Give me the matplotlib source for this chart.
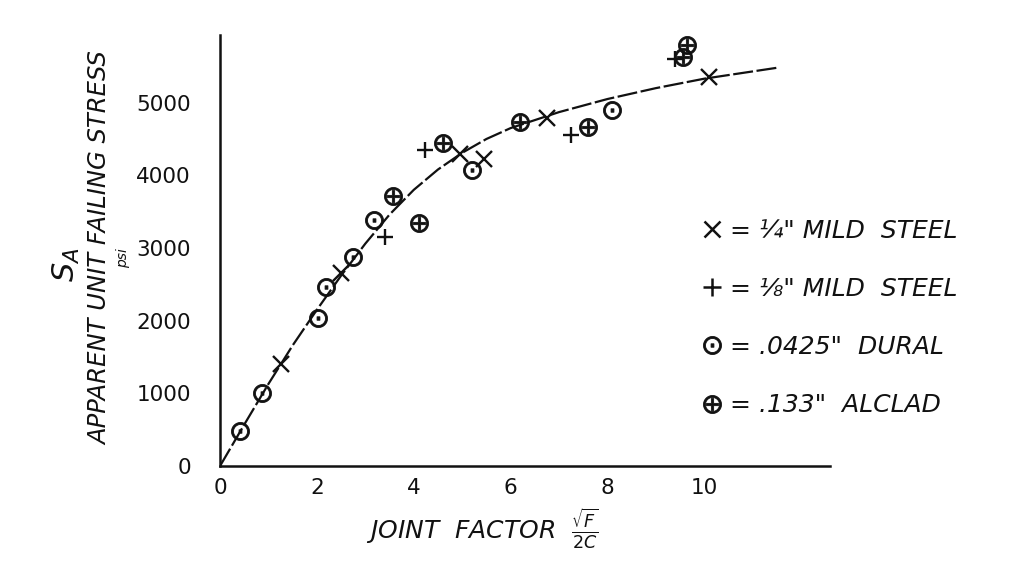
import matplotlib

matplotlib.use("Agg")
import matplotlib.pyplot as plt
from matplotlib.lines import Line2D

# faired curve through the test points
curve_x = [0, 0.5, 1, 1.5, 2, 2.5, 3, 3.5, 4, 4.5, 5, 5.5, 6, 7, 8, 9, 10, 11.5]
curve_y = [0, 570, 1130, 1660, 2150, 2620, 3060, 3460, 3800, 4080, 4310, 4500,
           4650, 4870, 5050, 5200, 5330, 5480]

# 1/4" mild steel
steel_quarter_x = [1.25, 2.5, 4.95, 5.45, 6.75, 10.1]
steel_quarter_y = [1400, 2650, 4300, 4230, 4790, 5350]

# 1/8" mild steel
steel_eighth_x = [3.4, 4.23, 7.25, 9.4]
steel_eighth_y = [3150, 4350, 4550, 5600]

# .0425" dural
dural_x = [0.42, 0.87, 2.02, 2.19, 2.75, 3.17, 5.21, 8.1]
dural_y = [480, 1010, 2040, 2460, 2870, 3380, 4070, 4900]

# .133" alclad
alclad_x = [3.58, 4.1, 4.6, 6.2, 7.6, 9.55, 9.65]
alclad_y = [3720, 3350, 4450, 4730, 4660, 5630, 5800]

x_ticks = [0, 2, 4, 6, 8, 10]
y_ticks = [0, 1000, 2000, 3000, 4000, 5000]

legend_labels = [
    '= ¼" MILD  STEEL',
    '= ⅛" MILD  STEEL',
    '= .0425"  DURAL',
    '= .133"  ALCLAD',
]

ink = "#111111"

fig = plt.figure(figsize=(10.36, 5.64), dpi=100)
fig.patch.set_facecolor("white")
ax = fig.add_axes([0.2124, 0.1738, 0.589, 0.764])

ax.plot(curve_x, curve_y, color=ink, linewidth=1.6, linestyle=(0, (9, 1.6)), zorder=2)

mark_kw = dict(linestyle="none", color=ink, zorder=3, clip_on=False)
ax.plot(steel_quarter_x, steel_quarter_y, marker="x", markersize=11, markeredgewidth=1.7, **mark_kw)
ax.plot(steel_eighth_x, steel_eighth_y, marker="+", markersize=12, markeredgewidth=1.7, **mark_kw)
ax.plot(dural_x, dural_y, marker=r"$\odot$", markersize=13, markeredgewidth=0.6, **mark_kw)
ax.plot(alclad_x, alclad_y, marker=r"$\oplus$", markersize=13, markeredgewidth=0.6, **mark_kw)

ax.set_xlim(0, 12.6)
ax.set_ylim(0, 5930)
ax.set_xticks(x_ticks)
ax.set_xticklabels([str(v) for v in x_ticks])
ax.set_yticks(y_ticks)
ax.set_yticklabels([str(v) for v in y_ticks])
ax.tick_params(axis="both", length=0, labelsize=15.5, colors=ink)
ax.tick_params(axis="y", pad=21)
ax.tick_params(axis="x", pad=9)

for side in ("top", "right"):
    ax.spines[side].set_visible(False)
for side in ("left", "bottom"):
    ax.spines[side].set_color(ink)
    ax.spines[side].set_linewidth(1.8)

ax.set_xlabel(
    r"JOINT  FACTOR  $\frac{\sqrt{F}}{2C}$",
    fontsize=18,
    fontstyle="italic",
    color=ink,
)
ax.xaxis.set_label_coords(0.43, -0.095)

fig.text(100 / 1036, 1 - 248 / 564, "APPARENT UNIT FAILING STRESS", rotation=90,
         ha="center", va="center", fontsize=17.5, fontstyle="italic", color=ink)
fig.text(123 / 1036, 1 - 258 / 564, "psi", rotation=90,
         ha="center", va="center", fontsize=10, fontstyle="italic", color=ink)
fig.text(66 / 1036, 1 - 265 / 564, r"$S_A$", rotation=90,
         ha="center", va="center", fontsize=22, color=ink)

handles = [
    Line2D([], [], linestyle="none", color=ink, marker="x", markersize=12, markeredgewidth=1.8),
    Line2D([], [], linestyle="none", color=ink, marker="+", markersize=13, markeredgewidth=1.8),
    Line2D([], [], linestyle="none", color=ink, marker=r"$\odot$", markersize=13, markeredgewidth=0.6),
    Line2D([], [], linestyle="none", color=ink, marker=r"$\oplus$", markersize=13, markeredgewidth=0.6),
]
leg = fig.legend(
    handles,
    legend_labels,
    loc="center left",
    bbox_to_anchor=(688 / 1036, 1 - 318 / 564),
    frameon=False,
    handlelength=0.9,
    handletextpad=0.3,
    labelspacing=1.37,
    borderpad=0,
    prop={"size": 18, "style": "italic"},
)
for text in leg.get_texts():
    text.set_color(ink)

fig.savefig("out.png", dpi=100)
plt.close(fig)
